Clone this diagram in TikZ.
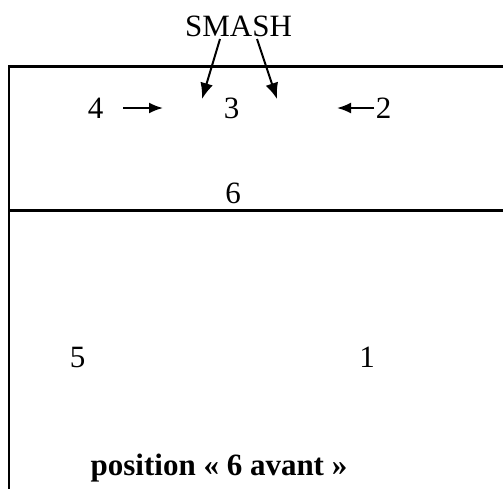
\documentclass[tikz,border=0pt]{standalone}
\usepackage{fontspec}
\setmainfont{Liberation Serif}
\usetikzlibrary{arrows.meta}
\begin{document}
\begin{tikzpicture}[x=1pt,y=-1pt,
  lbl/.style={inner sep=0pt,anchor=base,font=\fontsize{31}{36}\selectfont},
  arr/.style={line width=2pt,-{Latex[length=14pt,width=11pt]}},
  frame/.style={line width=2.2pt}]
\useasboundingbox (0,0) rectangle (503,488);
\coordinate (tl) at (9,66.5);
\coordinate (tr) at (504,66.5);
\coordinate (bl) at (9,489);
\coordinate (ml) at (9,210.5);
\coordinate (mr) at (504,210.5);
\draw[frame] (tr) -- (tl) -- (bl);
\draw[frame] (ml) -- (mr);
\node[lbl] (smash) at (238.5,36) {SMASH};
\node[lbl] (n4) at (95.5,118) {4};
\node[lbl] (n3) at (231.5,118) {3};
\node[lbl] (n2) at (383.5,118) {2};
\node[lbl] (n6) at (233,203) {6};
\node[lbl] (n5) at (77.5,367) {5};
\node[lbl] (n1) at (367,367) {1};
\node[lbl,font=\fontsize{31}{36}\selectfont\bfseries] (pos) at (219,475) {position « 6 avant »};
\coordinate (b4) at (123,108);
\coordinate (a4) at (163,108);
\coordinate (b2) at (374,108);
\coordinate (a2) at (337,108);
\coordinate (s1) at (220,39);
\coordinate (s2) at (257,39);
\coordinate (t1) at (202,99);
\coordinate (t2) at (277,99);
\draw[arr] (b4) -- (a4);
\draw[arr] (b2) -- (a2);
\draw[arr,-{Latex[length=16pt,width=13pt]}] (s1) -- (t1);
\draw[arr,-{Latex[length=16pt,width=13pt]}] (s2) -- (t2);
\end{tikzpicture}
\end{document}
